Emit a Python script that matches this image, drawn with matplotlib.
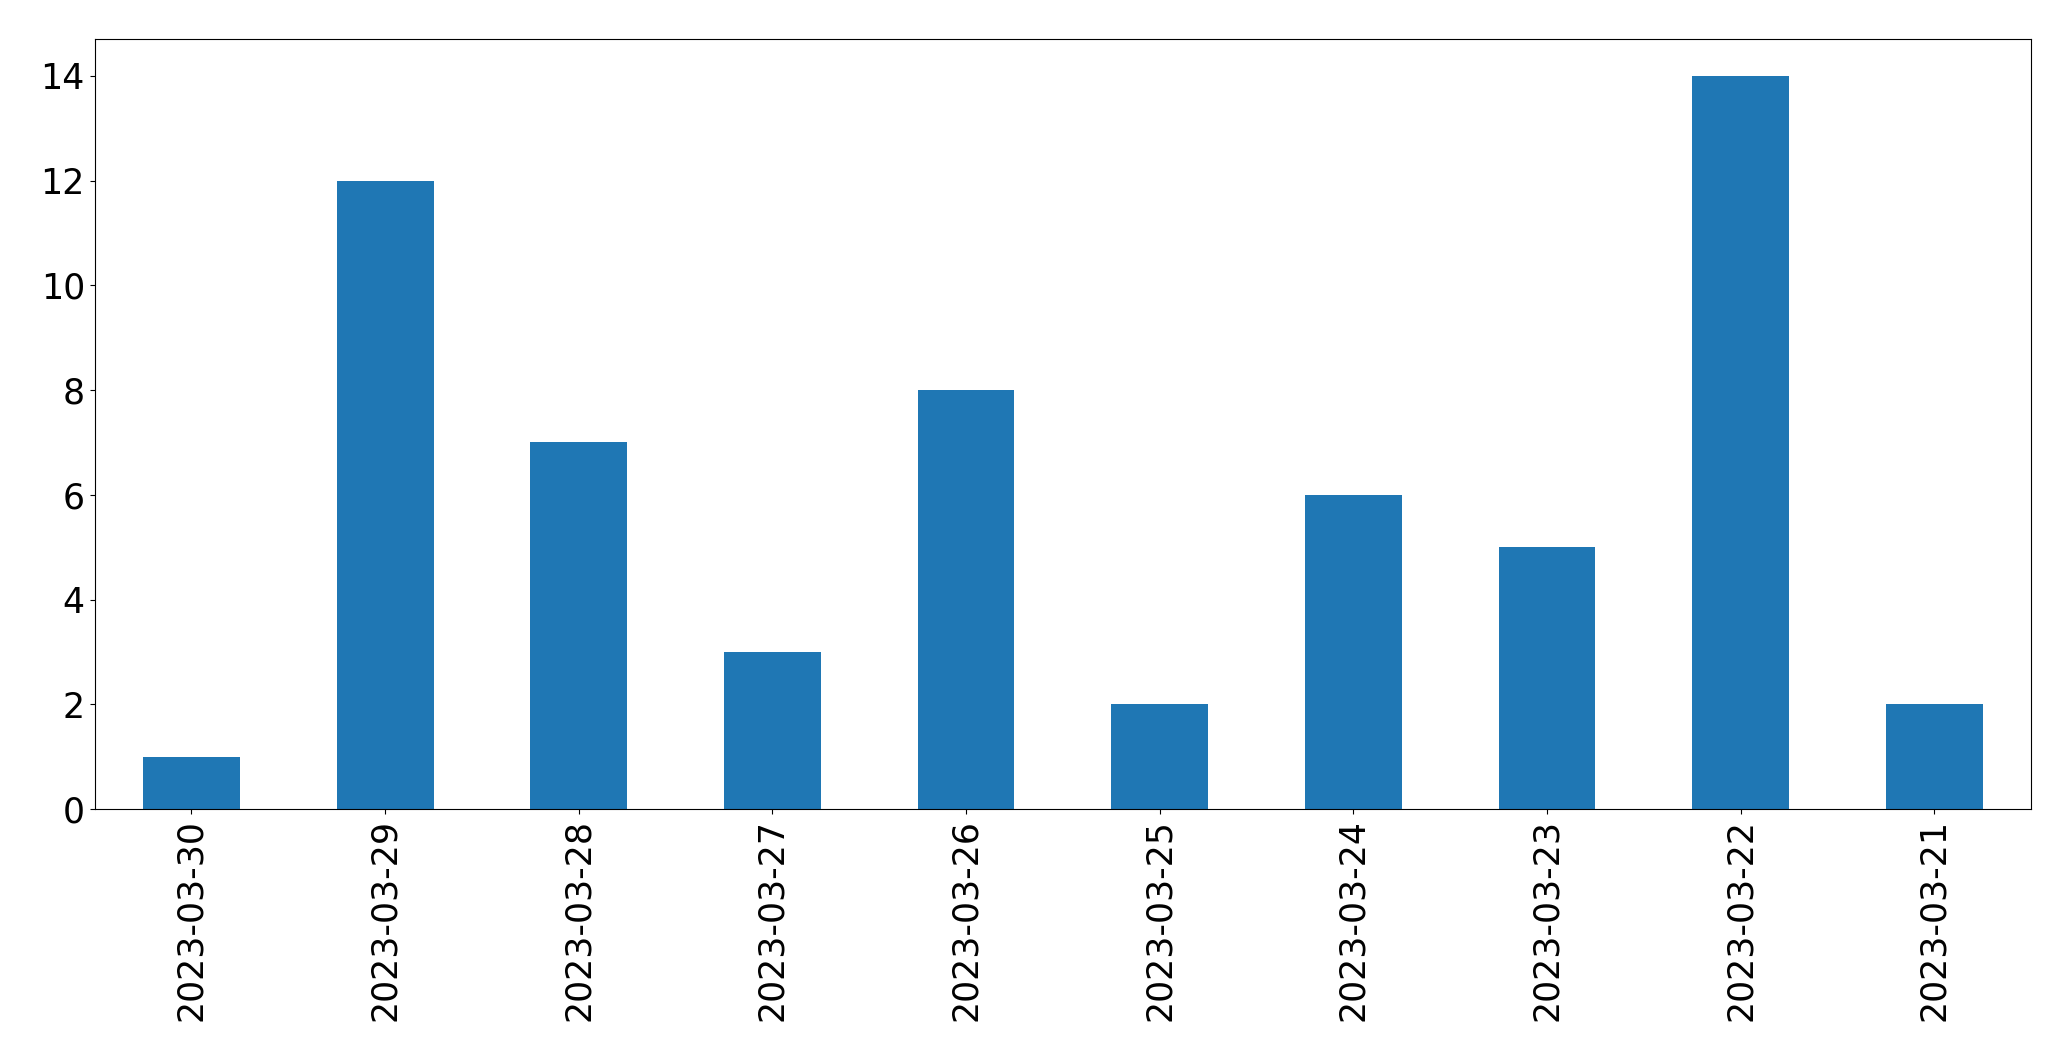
import matplotlib
matplotlib.use('Agg')
import matplotlib.pyplot as plt
import pandas as pd

# counts per day, newest first
dates = ['2023-03-30', '2023-03-29', '2023-03-28', '2023-03-27', '2023-03-26',
         '2023-03-25', '2023-03-24', '2023-03-23', '2023-03-22', '2023-03-21']
counts = [1, 12, 7, 3, 8, 2, 6, 5, 14, 2]

series = pd.Series(counts, index=dates)

fig, ax = plt.subplots(figsize=(20.71, 10.61), dpi=100)
series.plot.bar(ax=ax, color='#1f77b4')
ax.tick_params(axis='both', labelsize=25)
fig.subplots_adjust(left=0.0457, right=0.9807, top=0.963, bottom=0.2375)
fig.savefig('out.png', dpi=100)
